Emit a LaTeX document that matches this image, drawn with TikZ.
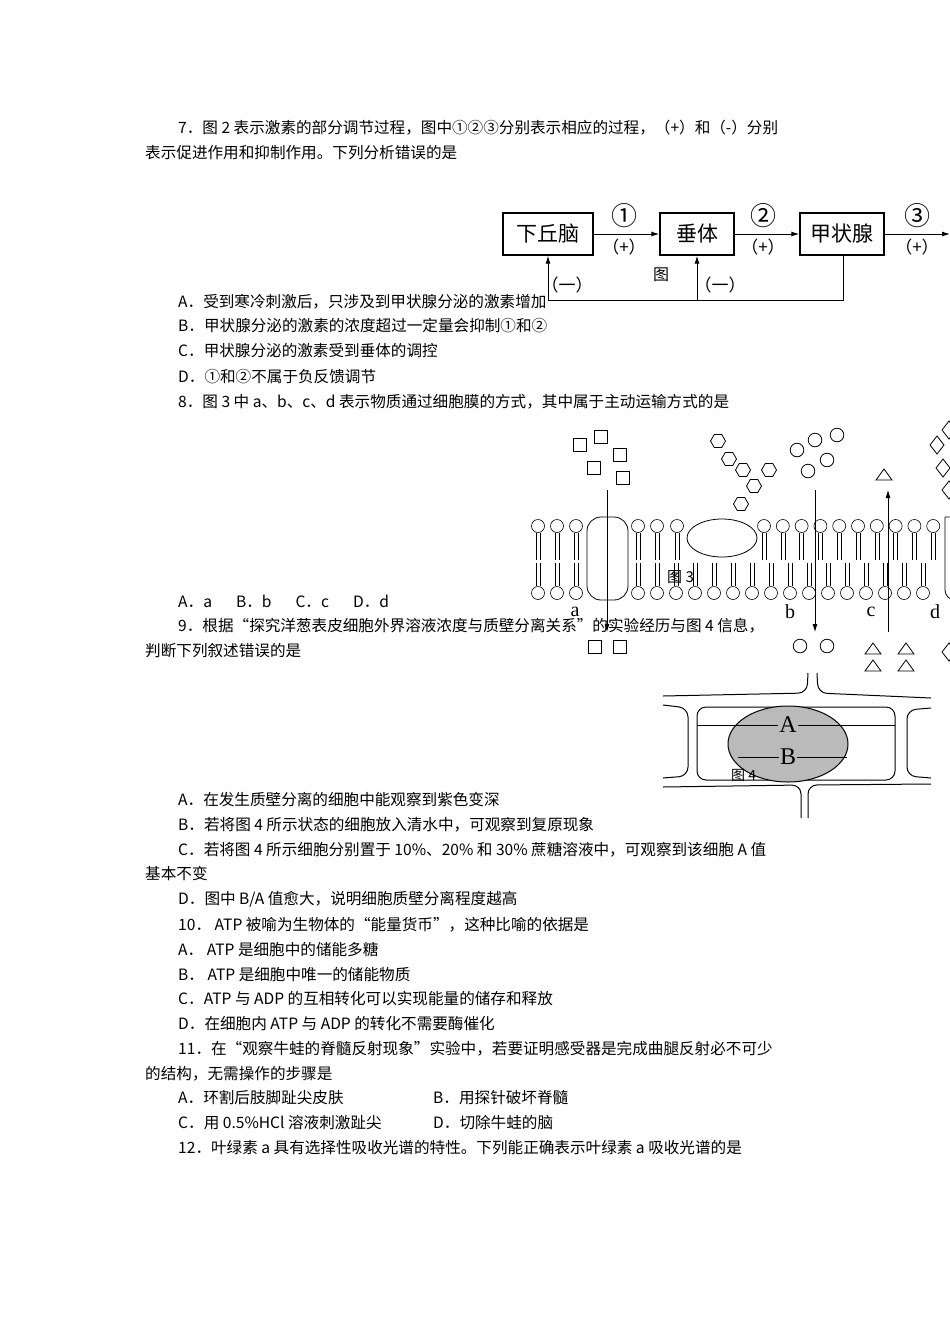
\documentclass[tikz,border=0pt]{standalone}
\usepackage{fontspec}
\setmainfont{Noto Sans CJK SC}
\newfontfamily\serifl{Liberation Serif}
\usetikzlibrary{arrows.meta,shapes.geometric}
\begin{document}
\begin{tikzpicture}[x=1pt,y=-1pt,
 txt/.style={anchor=west,inner sep=0pt,font=\fontsize{15.6}{16}\selectfont},
 bx/.style={draw,line width=1.3pt,minimum width=#1,minimum height=42pt,inner sep=0pt,font=\fontsize{21}{22}\selectfont},
 lab/.style={inner sep=0pt,font=\fontsize{17}{18}\selectfont},
 num/.style={inner sep=0pt,font=\fontsize{26}{26}\selectfont},
 arr/.style={-{Latex[length=8pt,width=5pt]},line width=1pt},
 head/.style={draw,line width=0.6pt,circle,minimum size=13pt,inner sep=0pt},
 mol/.style={draw,line width=0.8pt},
 wall/.style={line width=1pt,rounded corners=9pt}]
\useasboundingbox (0,0) rectangle (950,1344);
% ---- texts
\node[txt] (t1) at (178,128) {7．图 2 表示激素的部分调节过程，图中①②③分别表示相应的过程，（+）和（-）分别};
\node[txt] (t2) at (145,153) {表示促进作用和抑制作用。下列分析错误的是};
\node[txt] (t3) at (178,302) {A．受到寒冷刺激后，只涉及到甲状腺分泌的激素增加};
\node[txt] (t4) at (178,326) {B．甲状腺分泌的激素的浓度超过一定量会抑制①和②};
\node[txt] (t5) at (178,351) {C．甲状腺分泌的激素受到垂体的调控};
\node[txt] (t6) at (178,377) {D．①和②不属于负反馈调节};
\node[txt] (t7) at (178,402) {8．图 3 中 a、b、c、d 表示物质通过细胞膜的方式，其中属于主动运输方式的是};
\node[txt] (t8) at (178,601) {A．a\hspace{24pt}B．b\hspace{24pt}C．c\hspace{24pt}D．d};
\node[txt] (t9) at (178,626) {9．根据“探究洋葱表皮细胞外界溶液浓度与质壁分离关系”的实验经历与图 4 信息，};
\node[txt] (t10) at (145,651) {判断下列叙述错误的是};
\node[txt] (t11) at (178,800) {A．在发生质壁分离的细胞中能观察到紫色变深};
\node[txt] (t12) at (178,825) {B．若将图 4 所示状态的细胞放入清水中，可观察到复原现象};
\node[txt] (t13) at (178,850) {C．若将图\ 4 所示细胞分别置于 10\%、20\% 和\ 30\% 蔗糖溶液中，可观察到该细胞 A 值};
\node[txt] (t14) at (145,874) {基本不变};
\node[txt] (t15) at (178,899) {D．图中 B/A 值愈大，说明细胞质壁分离程度越高};
\node[txt] (t16) at (178,925) {10．\ ATP 被喻为生物体的“能量货币”，这种比喻的依据是};
\node[txt] (t17) at (178,950) {A．\ ATP 是细胞中的储能多糖};
\node[txt] (t18) at (178,975) {B．\ ATP 是细胞中唯一的储能物质};
\node[txt] (t19) at (178,999) {C．ATP 与 ADP 的互相转化可以实现能量的储存和释放};
\node[txt] (t20) at (178,1024) {D．在细胞内 ATP 与 ADP 的转化不需要酶催化};
\node[txt] (t21) at (178,1049) {11．在“观察牛蛙的脊髓反射现象”实验中，若要证明感受器是完成曲腿反射必不可少};
\node[txt] (t22) at (145,1074) {的结构，无需操作的步骤是};
\node[txt] (t23) at (178,1098) {A．环割后肢脚趾尖皮肤};
\node[txt] (t24) at (433,1098) {B．用探针破坏脊髓};
\node[txt] (t25) at (178,1123) {C．用 0.5\%HCl 溶液刺激趾尖};
\node[txt] (t26) at (433,1123) {D．切除牛蛙的脑};
\node[txt] (t27) at (178,1148) {12．叶绿素 a 具有选择性吸收光谱的特性。下列能正确表示叶绿素 a 吸收光谱的是};
% ---- figure 2
\node[bx=90pt] (h) at (548,234) {下丘脑};
\node[bx=74pt] (p) at (697,234) {垂体};
\node[bx=84pt] (g) at (842,234) {甲状腺};
\coordinate (e) at (950,234);
\draw[arr] (h) -- (p); \draw[arr] (p) -- (g); \draw[arr] (g) -- (e);
\node[num] (n1) at (624,216) {①}; \node[lab] (q1) at (624,247) {（+）};
\node[num] (n2) at (763,216) {②}; \node[lab] (q2) at (763,247) {（+）};
\node[num] (n3) at (917,216) {③}; \node[lab] (q3) at (917,247) {（+）};
\node[lab] (m1) at (567,285) {（一）}; \node[lab] (m2) at (720,285) {（一）};
\node[txt,font=\fontsize{16}{16}\selectfont] (f2) at (653,275) {图};
\coordinate (fb) at (843,300); \coordinate (fh) at (548,300); \coordinate (fp) at (697,300);
\draw[line width=1pt] (g.south -| fb) -- (fb) -- (fh);
\draw[arr] (fh) -- (h.south); \draw[arr] (fp) -- (p.south);
% ---- figure 3
\foreach \x in {538,557,576,638,657,677} {\node[head] at (\x,526) {};
 \draw[line width=0.6pt] (\x-2,533)--(\x-2,560) (\x+2,533)--(\x+2,560);}
\foreach \i in {0,...,9} {\pgfmathsetmacro\x{764+18.8*\i}\node[head] at (\x,526) {};
 \draw[line width=0.6pt] (\x-2,533)--(\x-2,560) (\x+2,533)--(\x+2,560);}
\foreach \x in {538,557,576} {\node[head] at (\x,593) {};
 \draw[line width=0.6pt] (\x-2,586)--(\x-2,563) (\x+2,586)--(\x+2,563);}
\foreach \i in {0,...,15} {\pgfmathsetmacro\x{638+19.0*\i}\node[head] at (\x,593) {};
 \draw[line width=0.6pt] (\x-2,586)--(\x-2,563) (\x+2,586)--(\x+2,563);}
\draw[line width=0.8pt,rounded corners=14pt] (587,517) rectangle (628,600);
\draw[line width=0.8pt,rounded corners=10pt] (945,517) -- (952,517) (945,517) -- (945,600) -- (952,600);
\node[draw,line width=0.8pt,ellipse,minimum width=70pt,minimum height=38pt] (prot) at (722,538) {};
\node[txt,font=\fontsize{15}{16}\selectfont] (f3) at (667,577) {图 3};
\coordinate (a1) at (607,490); \coordinate (a2) at (607,632);
\coordinate (b1) at (815,490); \coordinate (b2) at (815,632);
\coordinate (c1) at (888,632); \coordinate (c2) at (888,490);
\draw[arr,line width=0.8pt] (a1)--(a2); \draw[arr,line width=0.8pt] (b1)--(b2); \draw[arr,line width=0.8pt] (c1)--(c2);
\foreach \l/\x in {a/575,b/790,c/871,d/935}{\node[inner sep=0pt,font=\serifl\fontsize{20}{20}\selectfont] at (\x,612) {\l};}
\foreach \x/\y in {580/445,601/437,620/455,594/468,623/478,595/647,620/647}{\draw[mol] (\x-6.5,\y-6.5) rectangle (\x+6.5,\y+6.5);}
\foreach \x/\y in {718/441,729/459,743/470,769/470,754/486,741/504}{\node[mol,regular polygon,regular polygon sides=6,minimum size=15pt,inner sep=0pt] at (\x,\y) {};}
\foreach \x/\y in {797/450,815/440,837/435,827/460,808/471,800/646,827/646}{\draw[mol] (\x,\y) circle (6.8);}
\foreach \x/\y in {884/475,873/649,906/649,873/666,906/666}{\draw[mol] (\x-8,\y+5)--(\x,\y-6)--(\x+8,\y+5)--cycle;}
\foreach \x/\y in {937/445,949/430,943/468,949/490,949/652}{\draw[mol] (\x-7,\y)--(\x,\y-9)--(\x+7,\y)--(\x,\y+9)--cycle;}
% ---- figure 4
\draw[wall] (663,696) -- (807,693) -- (808,673);
\draw[wall] (817,673) -- (818,693) -- (931,698);
\draw[wall] (663,705) -- (688,708) -- (688,776) -- (663,778);
\draw[wall] (931,708) -- (907,710) -- (907,776) -- (931,778);
\draw[wall] (663,787) -- (801,785) -- (801,818);
\draw[wall] (808,818) -- (808,785) -- (931,784);
\draw[wall] (697,707) -- (895,707) -- (895,780) -- (697,780) -- cycle;
\node[draw,line width=1pt,fill=black!27,ellipse,minimum width=120pt,minimum height=76pt] (cell) at (788,744) {};
\node[inner sep=1pt,font=\serifl\fontsize{24}{24}\selectfont] (A) at (788,725) {A};
\node[inner sep=1pt,font=\serifl\fontsize{24}{24}\selectfont] (B) at (788,757) {B};
\draw[line width=0.9pt] (697,725) -- (A.west) (A.east) -- (895,725);
\draw[line width=0.9pt] (738,757) -- (B.west) (B.east) -- (847,757);
\node[txt,font=\fontsize{14}{14}\selectfont] (f4) at (731,775) {图 4};
\end{tikzpicture}
\end{document}
